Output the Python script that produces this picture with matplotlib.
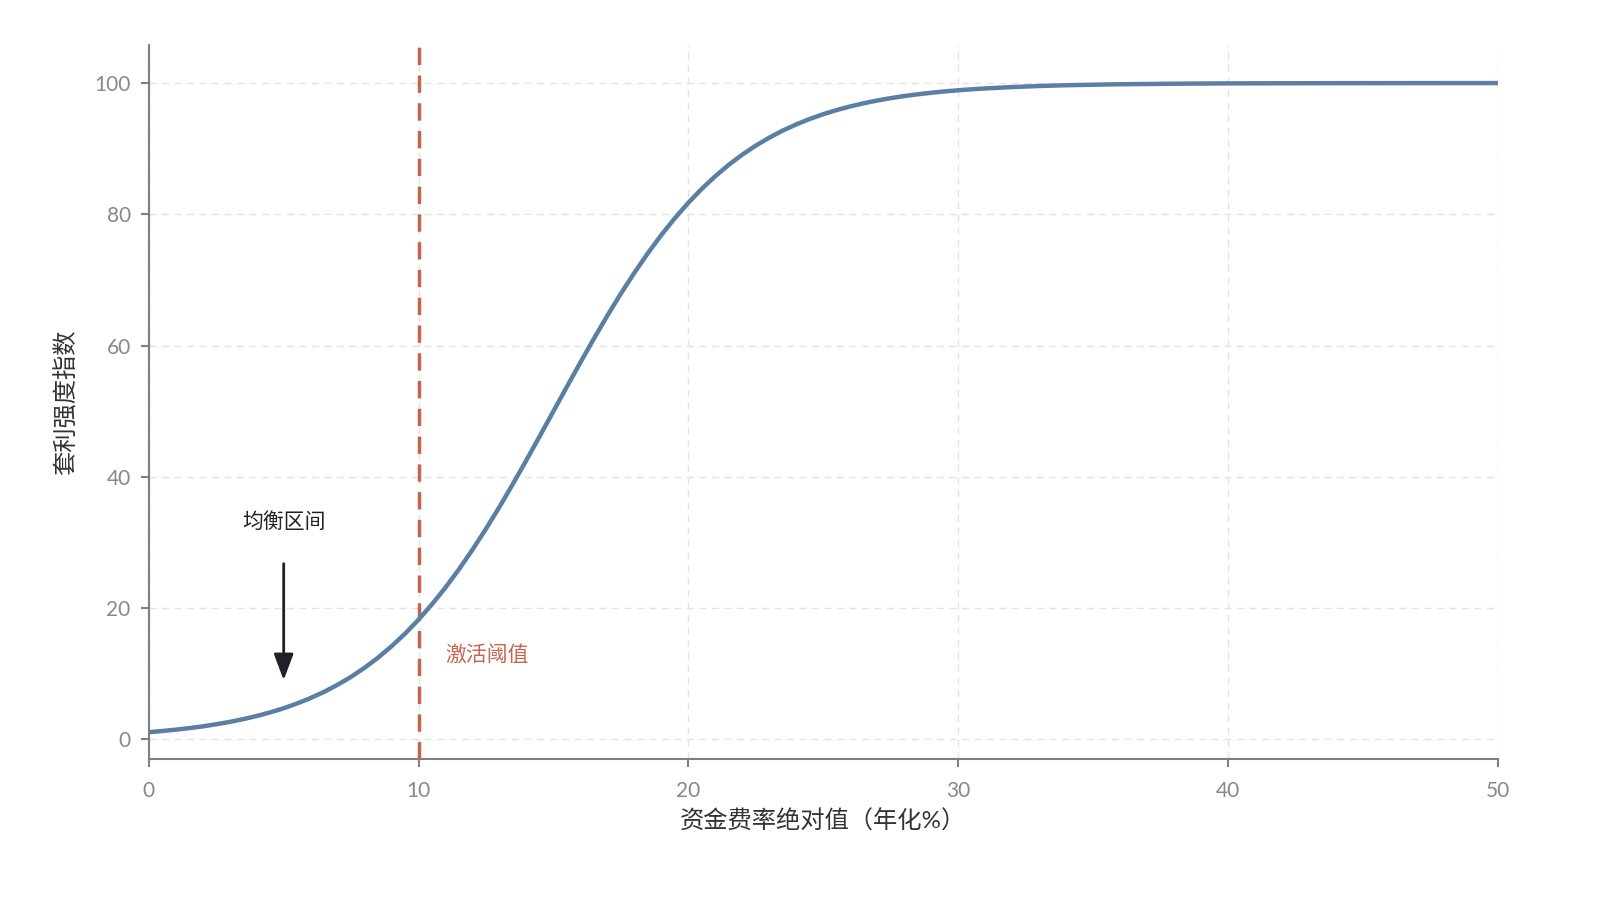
import numpy as np
import matplotlib.pyplot as plt

plt.rcParams['font.family'] = ['Lato', 'Noto Sans CJK SC', 'DejaVu Sans']

# 资金费率绝对值 (年化%) 与 套利强度指数
rate = [0, 0.5, 1, 1.5, 2, 2.5, 3, 3.5, 4, 4.5, 5, 5.5, 6, 6.5, 7, 7.5, 8, 8.5, 9, 9.5,
        10, 10.5, 11, 11.5, 12, 12.5, 13, 13.5, 14, 14.5, 15, 15.5, 16, 16.5, 17, 17.5,
        18, 18.5, 19, 19.5, 20, 20.5, 21, 21.5, 22, 22.5, 23, 23.5, 24, 24.5, 25, 25.5,
        26, 26.5, 27, 27.5, 28, 28.5, 29, 29.5, 30, 30.5, 31, 32, 33, 34, 35, 36, 37,
        38, 39, 40, 42, 44, 46, 48, 50]
strength = [1.1, 1.27, 1.48, 1.71, 1.98, 2.3, 2.66, 3.08, 3.56, 4.11, 4.74, 5.47, 6.3,
            7.24, 8.32, 9.53, 10.91, 12.45, 14.19, 16.11, 18.24, 20.59, 23.15, 25.92,
            28.91, 32.08, 35.43, 38.94, 42.56, 46.26, 50.0, 53.74, 57.44, 61.06, 64.57,
            67.92, 71.09, 74.08, 76.85, 79.41, 81.76, 83.89, 85.81, 87.55, 89.09, 90.47,
            91.68, 92.76, 93.7, 94.53, 95.26, 95.89, 96.44, 96.92, 97.34, 97.7, 98.02,
            98.29, 98.52, 98.73, 98.9, 99.05, 99.18, 99.39, 99.55, 99.67, 99.75, 99.82,
            99.86, 99.9, 99.93, 99.95, 99.97, 99.985, 99.99, 99.995, 99.998]
threshold = 10
xticks = [0, 10, 20, 30, 40, 50]
yticks = [0, 20, 40, 60, 80, 100]

fig = plt.figure(figsize=(16, 9.11), dpi=100)
ax = fig.add_axes([0.093, 0.1668, 0.843, 0.7838])

ax.plot(rate, strength, color='#5b7fa3', lw=3.2, zorder=3)
ax.axvline(threshold, color='#c4654f', lw=2.5, ls=(0, (5, 3)), zorder=2)

ax.annotate('', xy=(5, 8.6), xytext=(5, 27.2),
            arrowprops=dict(arrowstyle='-|>,head_width=0.6,head_length=1.6',
                            color='#1f2028', lw=2))
ax.text(5, 33.2, '均衡区间', ha='center', va='center', fontsize=15, color='#222222')
ax.text(11, 12.8, '激活阈值', ha='left', va='center', fontsize=15, color='#c4654f')

ax.set_xlim(0, 50)
ax.set_ylim(-3, 105.8)
ax.set_xticks(xticks)
ax.set_yticks(yticks)
ax.grid(True, ls=(0, (5, 4)), color='#e2e2e2', lw=1)
ax.set_axisbelow(True)

for s in ['top', 'right']:
    ax.spines[s].set_visible(False)
for s in ['left', 'bottom']:
    ax.spines[s].set_color('#808080')
    ax.spines[s].set_linewidth(1.5)
ax.tick_params(colors='#808080', labelcolor='#888888', labelsize=15, length=6, width=1.5)
ax.tick_params(axis='x', pad=10)
ax.tick_params(axis='y', pad=7)

ax.set_xlabel('资金费率绝对值（年化%）', fontsize=17.5, color='#333333', labelpad=6)
ax.set_ylabel('套利强度指数', fontsize=17.5, color='#333333', labelpad=12)

fig.savefig('out.png', dpi=100)
